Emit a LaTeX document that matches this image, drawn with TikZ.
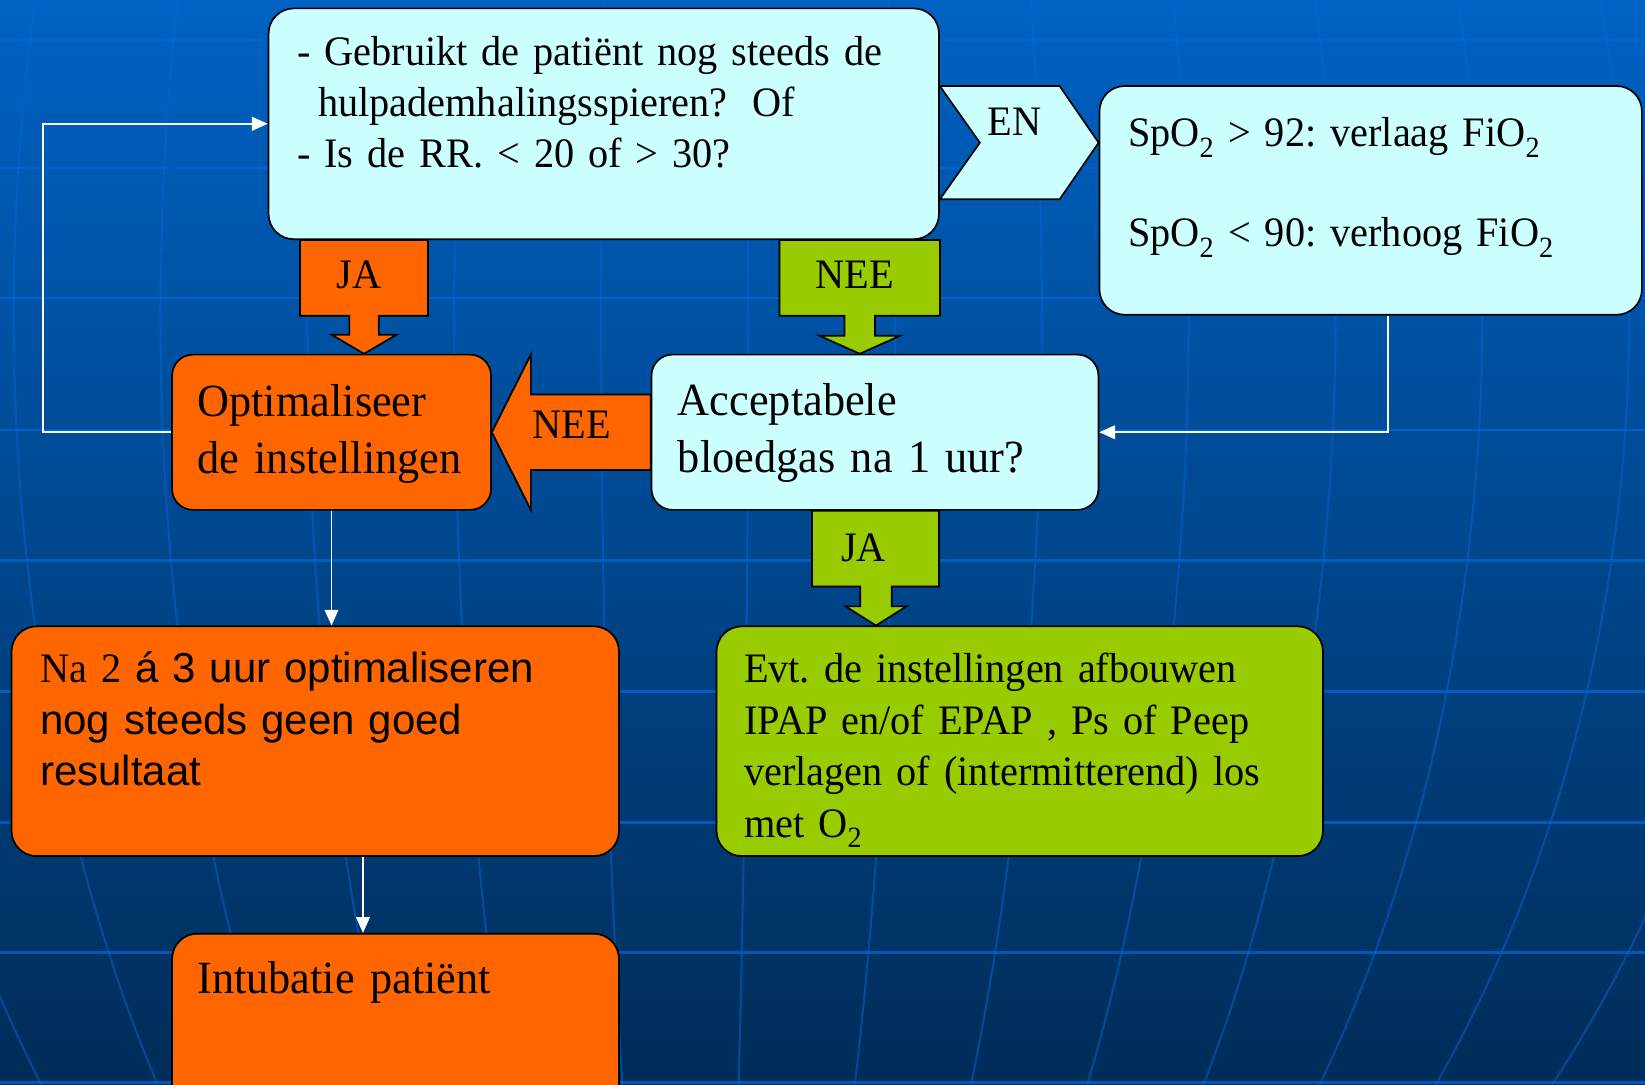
\documentclass[tikz,border=0pt]{standalone}
\usepackage{fontspec}
\setmainfont{Liberation Serif}[FakeStretch=0.96]
\setsansfont{Liberation Sans}
\usetikzlibrary{arrows.meta}
\AtBeginDocument{\frenchspacing}

\definecolor{bgtop}{RGB}{0,98,196}
\definecolor{bgbot}{RGB}{0,44,88}
\definecolor{gridblue}{RGB}{0,102,212}
\definecolor{boxcyan}{RGB}{204,255,255}
\definecolor{boxorange}{RGB}{255,102,0}
\definecolor{boxgreen}{RGB}{153,204,0}

\begin{document}
\begin{tikzpicture}[x=1pt,y=-1pt,
  box/.style={draw,line width=1.6pt,rounded corners=24pt,inner sep=0pt},
  blk/.style={draw,line width=1.6pt,line join=miter},
  conn/.style={draw=white,line width=1.8pt,-{Triangle[length=15pt,width=13pt]}},
  gridline/.style={draw=gridblue,line width=2.5pt,draw opacity=.75},
  meridian/.style={draw=gridblue,line width=2pt,draw opacity=.5},
  txt/.style={inner sep=0pt,anchor=base west,align=left,text width=620pt,font=\fontsize{40}{49}\selectfont},
  big/.style={font=\fontsize{44}{54}\selectfont},
  lbl/.style={inner sep=0pt,anchor=base,font=\fontsize{40}{49}\selectfont}]

  \useasboundingbox (0,0) rectangle (1568,1034);
  % background
  \shade[top color=bgtop,bottom color=bgbot] (0,0) rectangle (1568,1034);
  \foreach \y in {38,160,284,410,534,659,784,908,1032}
    \draw[gridline] (0,\y) -- (1568,\y);
  \foreach \d in {-797,-657,...,1023}
    \draw[meridian] plot[domain=0:1034,samples=40,variable=\t]
      ({670+\d*sqrt(1-((\t-300)/1200)^2)},\t);

  % boxes
  \node[box,fill=boxcyan,minimum width=639pt,minimum height=220pt] (top) at (575.5,118) {};
  \node[box,fill=boxcyan,minimum width=517pt,minimum height=218pt] (spo) at (1306.5,191) {};
  \node[box,fill=boxorange,minimum width=304pt,minimum height=148pt,rounded corners=20pt] (opt) at (316,412) {};
  \node[box,fill=boxcyan,minimum width=426pt,minimum height=148pt,rounded corners=20pt] (acc) at (834,412) {};
  \node[box,fill=boxorange,minimum width=579pt,minimum height=219pt] (na) at (300.5,706.5) {};
  \node[box,fill=boxgreen,minimum width=578pt,minimum height=219pt] (evt) at (972,706.5) {};
  \node[box,fill=boxorange,minimum width=426pt,minimum height=170pt] (intub) at (377,975) {};

  % block arrows
  \draw[blk,fill=boxorange] (286,0 |- top.south) -- (408,0 |- top.south) -- (408,301) -- (361,301)
    -- (361,319) -- (378,319) -- (347,0 |- opt.north) -- (316,319) -- (333,319) -- (333,301) -- (286,301) -- cycle;
  \draw[blk,fill=boxgreen] (743,0 |- top.south) -- (896,0 |- top.south) -- (896,301) -- (834,301)
    -- (834,320) -- (858,320) -- (819.5,0 |- acc.north) -- (781,320) -- (805,320) -- (805,301) -- (743,301) -- cycle;
  \draw[blk,fill=boxorange] (acc.west |- 0,376) -- (506,376) -- (506,338) -- (opt.east)
    -- (506,486) -- (506,448) -- (acc.west |- 0,448) -- cycle;
  \draw[blk,fill=boxgreen] (774,0 |- acc.south) -- (895,0 |- acc.south) -- (895,559) -- (850,559)
    -- (850,578) -- (864,578) -- (835,0 |- evt.north) -- (806,578) -- (820,578) -- (820,559) -- (774,559) -- cycle;
  \draw[blk,fill=boxcyan] (top.east |- 0,82) -- (1010,82) -- (spo.west |- 0,136) -- (1010,190)
    -- (top.east |- 0,190) -- (934,136) -- cycle;

  % connectors
  \draw[conn] (opt.west) -- (41,0 |- opt.west) |- (top.west);
  \draw[conn] (1323,0 |- spo.south) |- (acc.east);
  \draw[conn] (opt.south) -- (opt.south |- na.north);
  \draw[conn] (346,0 |- na.south) -- (346,0 |- intub.north);

  % texts
  \node[txt] (topTxt) at (283,62) {- Gebruikt de patiënt nog steeds de\\
    \hspace*{20pt}hulpademhalingsspieren?\hspace{0.6em}Of\\
    - Is de RR. < 20 of > 30?};
  \node[txt] (spoTxt) at (1075,140) {SpO\textsubscript{2} > 92: verlaag FiO\textsubscript{2}\\[46pt]
    SpO\textsubscript{2} < 90: verhoog FiO\textsubscript{2}};
  \node[txt,big] (optTxt) at (188,397) {Optimaliseer\\ de instellingen};
  \node[txt,big] (accTxt) at (646,396) {Acceptabele\\ bloedgas na 1 uur?};
  \node[txt] (naTxt) at (38,651) {Na 2 {\sffamily á 3 uur optimaliseren}\\
    {\sffamily nog steeds geen goed}\\ {\sffamily resultaat}};
  \node[txt] (evtTxt) at (709,651) {Evt. de instellingen afbouwen\\
    IPAP en/of EPAP , Ps of Peep\\ verlagen of (intermitterend) los\\ met O\textsubscript{2}};
  \node[txt,big] (intubTxt) at (188,947) {Intubatie patiënt};

  % labels on the arrows
  \node[lbl] (jaTop) at (342,275) {JA};
  \node[lbl] (neeTop) at (815,275) {NEE};
  \node[lbl] (en) at (967,129) {EN};
  \node[lbl] (neeLeft) at (545,418) {NEE};
  \node[lbl] (jaBot) at (823,535) {JA};
\end{tikzpicture}
\end{document}
